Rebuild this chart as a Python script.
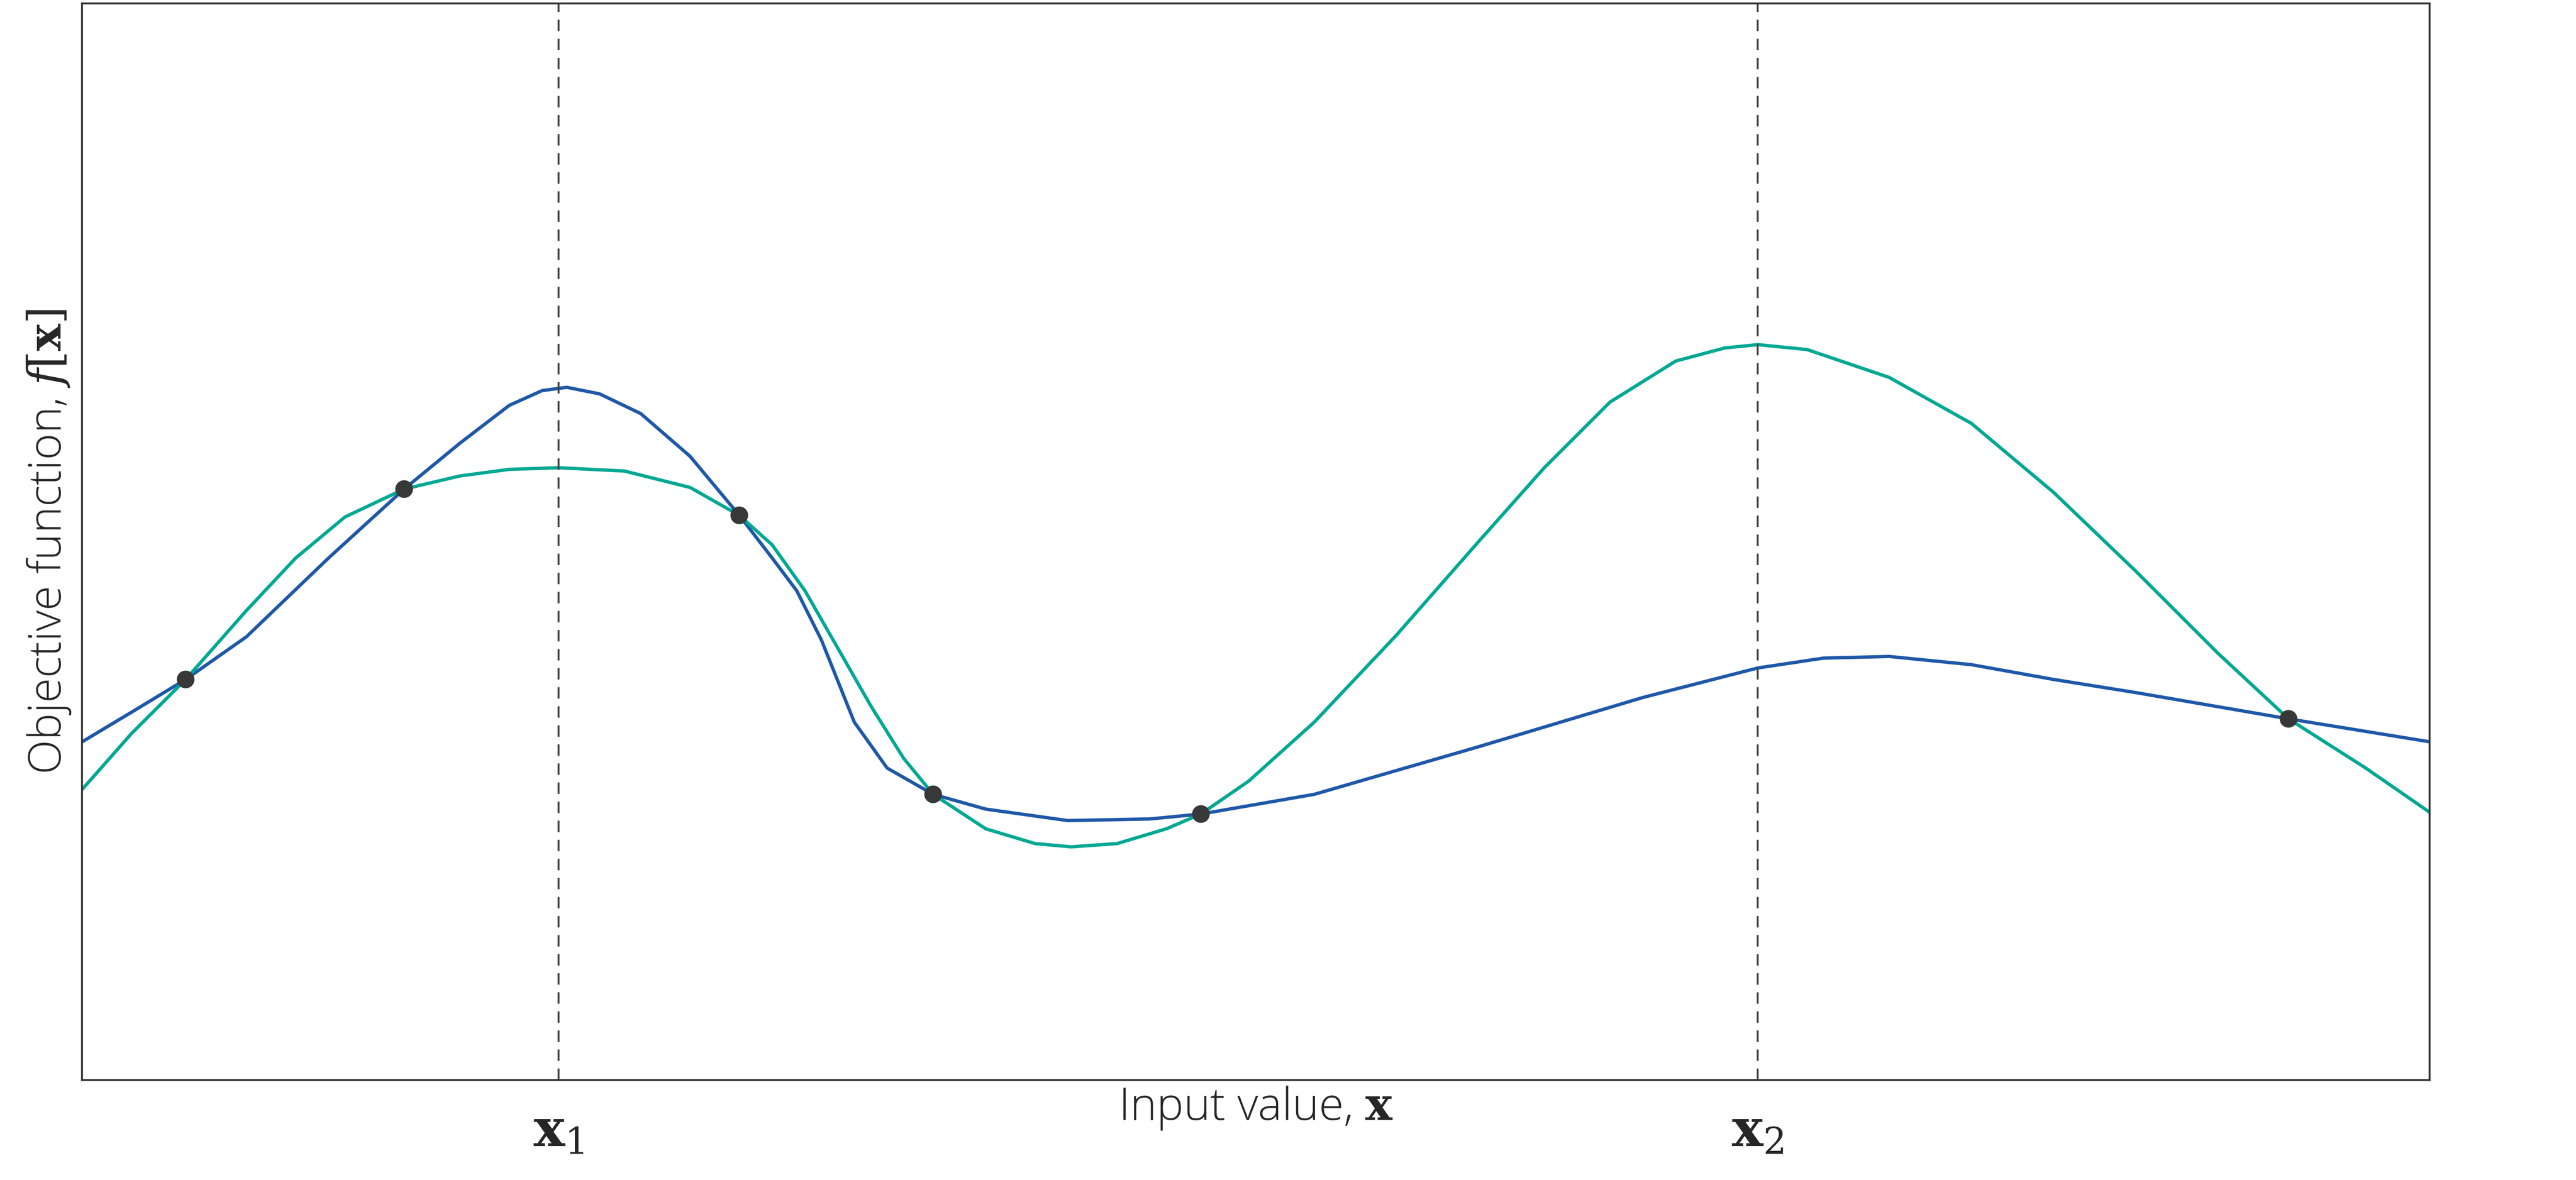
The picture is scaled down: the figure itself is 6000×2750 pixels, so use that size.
import numpy as np, pandas as pd, matplotlib
matplotlib.use("Agg")
import matplotlib.pyplot as plt, seaborn as sns

sns.set_style("white")
plt.rcParams['font.family'] = ['Open Sans', 'DejaVu Sans']
plt.rcParams['mathtext.fontset'] = 'dejavuserif'

# read in display pixel coords -> data
def X(p): return (np.array(p) - 50) / 1429
def Y(p): return (658 - np.array(p)) / 656

blue_px = [50, 80, 113, 150, 200, 246, 280, 310, 330, 345, 365, 390, 420, 450, 470, 485, 500, 520, 540, 568, 600, 650, 700, 731, 800, 900, 1000, 1070, 1110, 1150, 1200, 1250, 1300, 1393, 1479]
blue_py = [452, 434, 414, 388, 340, 298, 270, 247, 238, 236, 240, 252, 278, 314, 340, 360, 390, 440, 468, 484, 493, 500, 499, 496, 484, 455, 425, 407, 401, 400, 405, 414, 422, 438, 452]
teal_px = [50, 80, 113, 150, 180, 210, 246, 280, 310, 340, 380, 420, 450, 470, 490, 510, 530, 550, 568, 600, 630, 652, 680, 710, 731, 760, 800, 850, 900, 940, 980, 1020, 1050, 1070, 1100, 1150, 1200, 1250, 1300, 1350, 1393, 1440, 1479]
teal_py = [481, 447, 414, 372, 340, 315, 298, 290, 286, 285, 287, 297, 314, 332, 360, 395, 430, 462, 484, 505, 514, 516, 514, 505, 496, 476, 440, 387, 330, 285, 245, 220, 212, 210, 213, 230, 258, 300, 348, 398, 438, 468, 495]
pts_px = [113, 246, 450, 568, 731, 1393]
pts_py = [414, 298, 314, 484, 496, 438]
dash_px = [340, 1070]
tick_labels = [r'$\mathbf{x}_1$', r'$\mathbf{x}_2$']

fig = plt.figure(figsize=(30, 13.75), dpi=200)
ax = fig.add_axes([50/1568, 1-658/719, 1429/1568, 656/719])
sns.lineplot(x=X(blue_px), y=Y(blue_py), ax=ax, color='#1f58a8', lw=2.8)
sns.lineplot(x=X(teal_px), y=Y(teal_py), ax=ax, color='#00a893', lw=2.8)
for d in X(dash_px):
    ax.axvline(d, color='#444444', ls='--', lw=1.6, dashes=(6, 4))
sns.scatterplot(x=X(pts_px), y=Y(pts_py), ax=ax, color='#383838', s=220, zorder=5, edgecolor='none')
ax.set_xlim(0, 1); ax.set_ylim(0, 1)
ax.set_yticks([])
ax.set_xticks(X(dash_px)); ax.set_xticklabels(tick_labels, fontsize=44)
ax.tick_params(axis='x', length=0, pad=22)
ax.set_xlabel(r'Input value, $\mathbf{x}$', fontsize=38, fontweight='light', labelpad=-62)
ax.set_ylabel(r'Objective function, $f[\mathbf{x}]$', fontsize=38, fontweight='light', labelpad=8)
for s in ax.spines.values():
    s.set_color('#333333'); s.set_linewidth(1.6)
fig.savefig('out.png', dpi=200)
